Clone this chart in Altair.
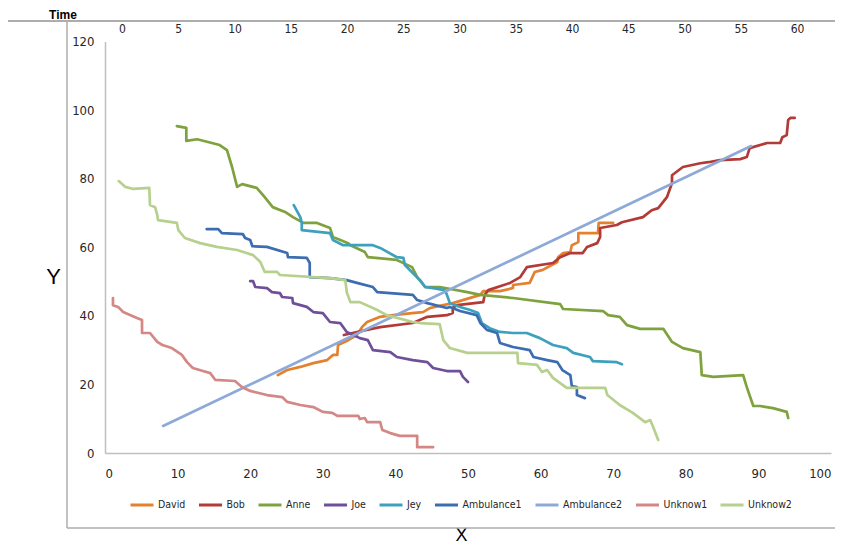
import altair as alt
import pandas as pd

series_names = ["David", "Bob", "Anne", "Joe", "Jey", "Ambulance1", "Ambulance2", "Unknow1", "Unknow2"]
series_colors = ["#E4812F", "#B23B38", "#7EA23D", "#6F4F99", "#3DA1BD", "#3C6DB0", "#8DA9D8", "#D48886", "#B7D08E"]

x_ticks = list(range(0, 101, 10))
y_ticks = list(range(0, 121, 20))
time_ticks = list(range(0, 61, 5))

david_x = [23.8, 25.1, 26.9, 28.7, 30.6, 31.4, 32.0, 32.1, 33.5, 34.7, 35.4, 36.1, 37.9, 39.7, 42.3, 43.8, 44.8, 46.1, 47.9, 51.7, 52.1, 54.4, 56.2, 56.2, 58.5, 59.2, 60.3, 62.3, 62.4, 63.1, 64.1, 64.3, 65.2, 65.2, 67.9, 68.0, 70.0]
david_y = [22.7, 24.2, 25.1, 26.2, 27.1, 28.6, 28.6, 31.5, 32.9, 34.4, 36.7, 38.2, 39.7, 40.2, 40.8, 41.1, 42.3, 42.9, 43.7, 46.1, 47.2, 47.2, 48.1, 49.0, 49.6, 52.8, 53.4, 55.7, 57.1, 58.3, 58.6, 60.6, 61.5, 64.1, 64.1, 67.1, 67.1]

bob_x = [32.9, 34.7, 37.9, 42.4, 44.4, 47.1, 47.9, 47.9, 48.5, 52.1, 52.3, 52.8, 55.8, 57.2, 58.1, 61.7, 62.7, 64.1, 65.8, 66.4, 67.8, 68.2, 68.2, 70.5, 71.2, 74.1, 75.3, 76.2, 77.4, 78.1, 78.1, 79.6, 82.0, 83.1, 84.7, 87.5, 88.4, 88.8, 91.2, 93.0, 93.3, 93.9, 94.1, 94.4, 95.0]
bob_y = [34.4, 35.3, 36.7, 37.9, 39.7, 40.2, 40.8, 42.3, 43.1, 44.0, 46.1, 47.5, 49.6, 51.3, 54.2, 55.4, 57.1, 58.3, 58.3, 60.1, 61.2, 63.0, 65.6, 66.5, 67.3, 68.8, 70.8, 71.4, 74.6, 78.7, 81.0, 83.4, 84.5, 84.8, 85.4, 85.7, 86.3, 88.9, 90.4, 90.4, 92.1, 92.7, 97.1, 97.7, 97.7]

anne_x = [9.9, 11.2, 11.2, 12.7, 15.8, 16.8, 17.5, 18.2, 18.9, 20.9, 22.0, 23.1, 24.8, 25.9, 27.3, 29.2, 31.0, 31.4, 33.5, 33.8, 35.8, 36.2, 40.2, 42.3, 43.0, 44.1, 46.1, 49.9, 51.7, 56.2, 62.7, 63.1, 68.6, 69.3, 70.9, 71.9, 73.7, 76.9, 78.1, 79.6, 82.0, 82.2, 83.8, 87.9, 88.4, 89.3, 90.2, 92.0, 93.9, 94.1]
anne_y = [95.3, 94.8, 91.0, 91.5, 89.8, 88.3, 83.4, 77.6, 78.4, 77.3, 74.6, 71.7, 70.3, 68.8, 67.1, 67.1, 65.6, 63.0, 61.2, 60.6, 58.6, 57.1, 56.3, 54.2, 51.3, 48.4, 48.4, 46.9, 46.1, 45.2, 43.4, 42.0, 41.4, 40.2, 39.7, 37.3, 36.2, 36.2, 32.4, 30.6, 29.4, 22.7, 22.2, 22.7, 19.2, 13.7, 13.7, 13.1, 12.0, 10.2]

joe_x = [20.0, 20.4, 20.7, 22.3, 23.0, 24.1, 24.4, 25.8, 25.9, 27.8, 28.7, 30.0, 31.0, 32.4, 33.3, 35.1, 36.2, 36.9, 39.3, 40.2, 42.4, 44.4, 45.2, 47.1, 48.9, 49.3, 50.0]
joe_y = [50.1, 50.1, 48.4, 48.1, 46.9, 46.6, 45.5, 45.2, 43.7, 42.6, 41.1, 40.8, 38.2, 37.9, 35.3, 33.5, 32.9, 30.0, 29.4, 28.0, 27.1, 26.5, 24.8, 23.9, 23.9, 22.2, 20.7]

jey_x = [26.0, 26.9, 27.1, 27.1, 31.0, 31.4, 32.8, 36.9, 37.9, 40.2, 41.1, 41.3, 42.4, 43.4, 44.1, 45.2, 46.8, 47.1, 47.5, 48.9, 50.3, 51.4, 51.9, 53.0, 54.4, 56.2, 58.1, 59.9, 61.7, 63.6, 64.5, 66.8, 67.2, 70.5, 71.2]
jey_y = [72.3, 68.8, 67.1, 65.0, 64.1, 62.1, 60.6, 60.6, 59.8, 57.1, 56.9, 54.8, 52.5, 50.4, 48.4, 48.1, 47.5, 46.1, 43.7, 42.6, 41.7, 40.8, 37.9, 36.4, 35.3, 35.0, 35.0, 33.5, 31.5, 30.6, 29.2, 28.0, 26.8, 26.5, 25.9]

amb1_x = [14.0, 15.6, 16.1, 19.0, 19.3, 20.0, 20.3, 22.3, 25.1, 25.2, 27.8, 28.2, 28.2, 31.0, 33.3, 34.7, 36.9, 37.5, 42.4, 43.0, 44.4, 47.1, 47.5, 48.9, 51.2, 51.7, 52.6, 54.0, 54.4, 56.2, 58.5, 59.0, 60.9, 62.3, 63.0, 64.1, 64.3, 65.0, 65.0, 66.1]
amb1_y = [65.3, 65.3, 64.1, 63.8, 62.7, 62.1, 60.3, 60.1, 58.3, 57.1, 56.9, 55.4, 51.3, 51.0, 50.4, 49.6, 48.4, 46.9, 46.1, 44.6, 43.7, 42.3, 42.6, 41.4, 40.2, 37.9, 35.9, 35.0, 32.1, 30.9, 30.0, 28.0, 27.1, 26.5, 24.2, 22.7, 19.5, 19.2, 16.9, 16.0]

amb2_x = [8.0, 89.0]
amb2_y = [7.9, 89.5]

unk1_x = [1.1, 1.1, 1.8, 2.5, 4.4, 5.1, 5.1, 6.2, 7.2, 7.9, 9.2, 10.6, 11.3, 12.1, 13.5, 14.5, 15.2, 17.9, 18.9, 20.0, 22.3, 24.4, 25.1, 26.9, 28.7, 30.0, 31.3, 32.0, 34.9, 35.1, 35.8, 36.1, 37.9, 38.2, 39.3, 40.6, 43.0, 43.0, 45.2]
unk1_y = [45.2, 43.1, 42.6, 41.1, 39.4, 38.8, 35.0, 35.0, 32.4, 31.5, 30.6, 28.6, 26.5, 24.8, 23.9, 23.3, 21.3, 21.0, 19.2, 18.1, 16.9, 16.3, 14.9, 14.0, 13.4, 12.0, 11.7, 10.8, 10.8, 9.9, 10.2, 9.0, 9.0, 6.7, 5.8, 5.0, 5.0, 1.7, 1.7]

unk2_x = [1.9, 2.8, 3.9, 6.1, 6.2, 6.9, 7.2, 7.3, 9.9, 10.1, 11.0, 13.1, 15.4, 18.2, 20.4, 21.4, 22.0, 23.7, 24.1, 31.0, 33.1, 33.3, 33.8, 35.1, 37.5, 38.8, 42.4, 43.4, 46.1, 46.6, 47.5, 49.9, 56.8, 56.9, 59.5, 60.2, 60.9, 61.7, 63.6, 68.9, 69.2, 70.9, 72.7, 74.4, 75.1, 75.5, 76.2]
unk2_y = [79.3, 77.6, 77.0, 77.3, 72.3, 71.7, 69.4, 67.9, 67.1, 65.0, 62.7, 61.2, 60.1, 59.2, 57.7, 55.7, 52.8, 52.8, 51.9, 51.0, 50.4, 46.9, 44.0, 44.0, 41.7, 40.2, 38.2, 37.9, 37.6, 32.9, 30.6, 29.2, 29.2, 26.2, 25.7, 23.6, 24.2, 21.9, 19.0, 19.0, 16.9, 14.0, 11.7, 9.0, 9.6, 7.6, 3.8]

all_xy = [(david_x, david_y), (bob_x, bob_y), (anne_x, anne_y), (joe_x, joe_y), (jey_x, jey_y),
          (amb1_x, amb1_y), (amb2_x, amb2_y), (unk1_x, unk1_y), (unk2_x, unk2_y)]

rows = []
for name, (xs, ys) in zip(series_names, all_xy):
    for i, (xv, yv) in enumerate(zip(xs, ys)):
        rows.append({"series": name, "x": xv, "y": yv, "i": i})
df = pd.DataFrame(rows)

FONT = "'Liberation Sans Narrow', 'DejaVu Sans Condensed', 'Liberation Sans', sans-serif"
FRAME = "#ADADAD"

W, H = 726, 411.5

lines = alt.Chart(df).mark_line(strokeWidth=2.7, strokeJoin="round", strokeCap="round").encode(
    x=alt.X("x:Q", scale=alt.Scale(domain=[0, 100], nice=False, zero=False),
            axis=alt.Axis(values=x_ticks, title="X", titleX=356, titleY=87,
                          titleBaseline="alphabetic", titleFontSize=18, titleFontWeight="normal",
                          titleFont="Liberation Sans", labelPadding=14)),
    y=alt.Y("y:Q", scale=alt.Scale(domain=[0, 120], nice=False, zero=False),
            axis=alt.Axis(values=y_ticks, title="Y", titleAngle=0, titleX=-52, titleY=235,
                          titleAlign="center", titleBaseline="middle", titleFontSize=22,
                          titleFontWeight="normal", titleFont="Liberation Sans", labelPadding=11)),
    color=alt.Color("series:N", sort=series_names,
                    scale=alt.Scale(domain=series_names, range=series_colors),
                    legend=alt.Legend(title=None, orient="none", legendX=24, legendY=450.5,
                                      direction="horizontal", symbolType="stroke",
                                      symbolStrokeWidth=3, symbolSize=529, labelOffset=3,
                                      columnPadding=6.5, padding=0, labelFont=FONT,
                                      labelFontSize=10.5, labelColor="#262626")),
    order="i:Q",
)

time_df = pd.DataFrame({"t": time_ticks})
time_axis = alt.Chart(time_df).mark_point(opacity=0).encode(
    x=alt.X("t:Q", scale=alt.Scale(domain=[-1.511, 63.02], nice=False, zero=False),
            axis=alt.Axis(orient="top", values=time_ticks, title=None, domain=False, ticks=False,
                          labelPadding=9.5, labelBaseline="alphabetic", labelFontSize=12)),
    y=alt.value(0),
)

one = pd.DataFrame({"k": [0]})
frame_top = alt.Chart(one).mark_rule(color=FRAME, strokeWidth=2).encode(
    x=alt.value(-97), x2=alt.value(730), y=alt.value(-20.5))
frame_left = alt.Chart(one).mark_rule(color=FRAME, strokeWidth=1.5).encode(
    x=alt.value(-38), y=alt.value(-20.5), y2=alt.value(486.5))
frame_bottom = alt.Chart(one).mark_rule(color=FRAME, strokeWidth=1.5).encode(
    x=alt.value(-38), x2=alt.value(730), y=alt.value(486.5))
time_title = alt.Chart(one).mark_text(text="Time", font="Liberation Sans", fontSize=12,
                                       fontWeight="bold", color="#000000").encode(
    x=alt.value(-42), y=alt.value(-26.5))

chart = alt.layer(frame_top, frame_left, frame_bottom, time_title, time_axis, lines).resolve_scale(
    x="independent"
).properties(
    width=W, height=H,
    autosize=alt.AutoSizeParams(type="none"),
    padding={"left": 97, "top": 33.5, "right": 4, "bottom": 92},
    background="white",
).configure_view(stroke=None).configure_axis(
    grid=False, ticks=False, domainColor="#BFBFBF", domainWidth=1.5,
    labelFont=FONT, labelFontSize=13, labelColor="#262626", titleColor="#000000",
)

chart.save("out.html", embed_options={"renderer": "svg", "actions": False})
